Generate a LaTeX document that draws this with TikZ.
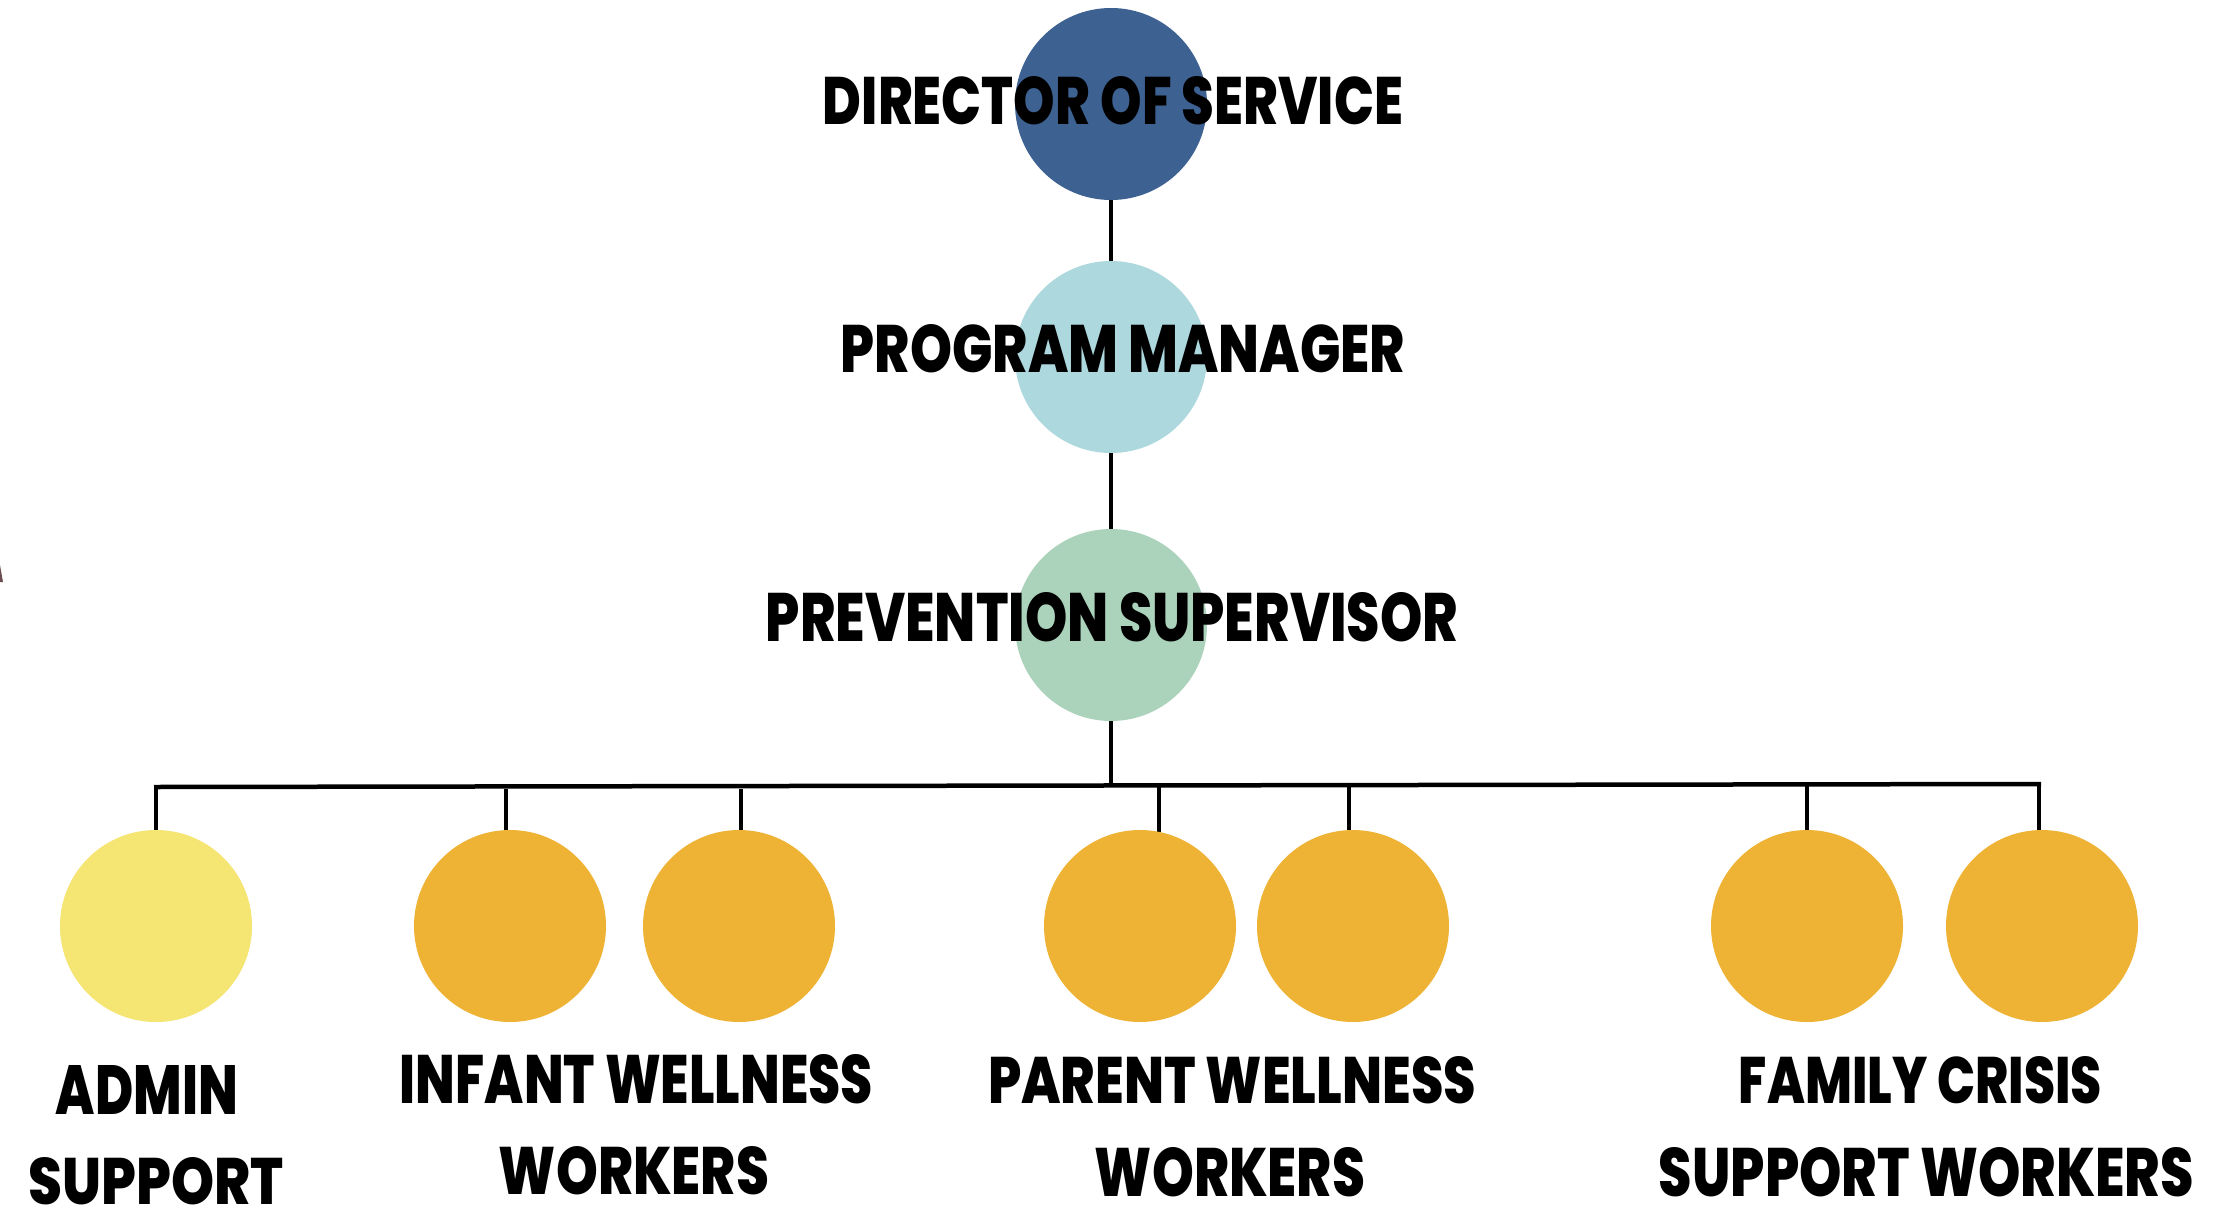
\documentclass[tikz,border=0pt]{standalone}
\usepackage{fontspec}
\usepackage{graphicx}
\newfontfamily\lbl{Poppins}[BoldFont={Poppins ExtraBold}]
\pgfdeclarelayer{connectors}
\pgfsetlayers{connectors,main}
\definecolor{dirblue}{HTML}{3D6191}
\definecolor{pmblue}{HTML}{ADD8DE}
\definecolor{psgreen}{HTML}{ABD3BB}
\definecolor{adminyellow}{HTML}{F5E573}
\definecolor{workerorange}{HTML}{EEB335}
\definecolor{straymark}{HTML}{6B4F52}
\newcommand\lblbox[3]{\resizebox{#1pt}{#2pt}{\lbl\bfseries #3}}
\begin{document}
\begin{tikzpicture}[x=1pt,y=-1pt,
  orgcircle/.style={circle, minimum size=192pt, inner sep=0pt, draw=none},
  conn/.style={line width=3.5pt, draw=black},
  bar/.style={line width=4.5pt, draw=black},
  lbltext/.style={inner sep=0pt, text=black}]
\useasboundingbox (0,0) rectangle (2217,1210);

% circles
\node[orgcircle, fill=dirblue] (dir) at (1111,104) {};
\node[orgcircle, fill=pmblue] (pm) at (1111,357) {};
\node[orgcircle, fill=psgreen] (ps) at (1111,625) {};
\node[orgcircle, fill=adminyellow] (c1) at (156,926) {};
\node[orgcircle, fill=workerorange] (c2) at (510,926) {};
\node[orgcircle, fill=workerorange] (c3) at (739,926) {};
\node[orgcircle, fill=workerorange] (c4) at (1140,926) {};
\node[orgcircle, fill=workerorange] (c5) at (1353,926) {};
\node[orgcircle, fill=workerorange] (c6) at (1807,926) {};
\node[orgcircle, fill=workerorange] (c7) at (2042,926) {};

% bar coordinates
\coordinate (hub) at (1113,784);
\coordinate (barL) at (154,787);
\coordinate (barR) at (2041,784);
\coordinate (d1) at (156,787);
\coordinate (d2) at (506,789);
\coordinate (d3) at (741,789);
\coordinate (d4) at (1159,787);
\coordinate (d5) at (1349,783);
\coordinate (d6) at (1807,783);
\coordinate (d7) at (2039,782);

\begin{pgfonlayer}{connectors}
\fill[white] (0,0) rectangle (2217,1210);
\draw[conn] (dir.south) -- (pm.north);
\draw[conn] (pm.south) -- (ps.north);
\draw[conn] (ps.south) -- (ps.south |- hub);
\draw[bar] (barL) -- (barR);
\draw[conn] (d1) -- (d1 |- c1.north);
\draw[conn] (d2) -- (d2 |- c2.north);
\draw[conn] (d3) -- (d3 |- c3.north);
\draw[conn] (d4) -- ([yshift=-2pt]d4 |- c4.north);
\draw[conn] (d5) -- (d5 |- c5.north);
\draw[conn] (d6) -- (d6 |- c6.north);
\draw[conn] (d7) -- (d7 |- c7.north);
\end{pgfonlayer}

% stray mark at left edge
\fill[straymark] (0,565) -- (3,582) -- (0,582) -- cycle;

% labels
\node[lbltext] (tdir) at (1113,101) {\lblbox{580}{48}{DIRECTOR OF SERVICE}};
\node[lbltext] (tpm) at (1123,349) {\lblbox{564}{48}{PROGRAM MANAGER}};
\node[lbltext] (tps) at (1112,617.5) {\lblbox{692}{49}{PREVENTION SUPERVISOR}};
\node[lbltext] (tadmin1) at (147,1089.5) {\lblbox{182}{49}{ADMIN}};
\node[lbltext] (tadmin2) at (156.5,1181) {\lblbox{255}{47}{SUPPORT}};
\node[lbltext] (tinf1) at (636.5,1079.5) {\lblbox{473}{49}{INFANT WELLNESS}};
\node[lbltext] (tinf2) at (634,1171) {\lblbox{270}{48}{WORKERS}};
\node[lbltext] (tpar1) at (1232,1080.5) {\lblbox{488}{47}{PARENT WELLNESS}};
\node[lbltext] (tpar2) at (1230,1172) {\lblbox{270}{49}{WORKERS}};
\node[lbltext] (tfam1) at (1920.5,1080.5) {\lblbox{363}{47}{FAMILY CRISIS}};
\node[lbltext] (tfam2) at (1926.5,1172) {\lblbox{535}{49}{SUPPORT WORKERS}};
\end{tikzpicture}
\end{document}
